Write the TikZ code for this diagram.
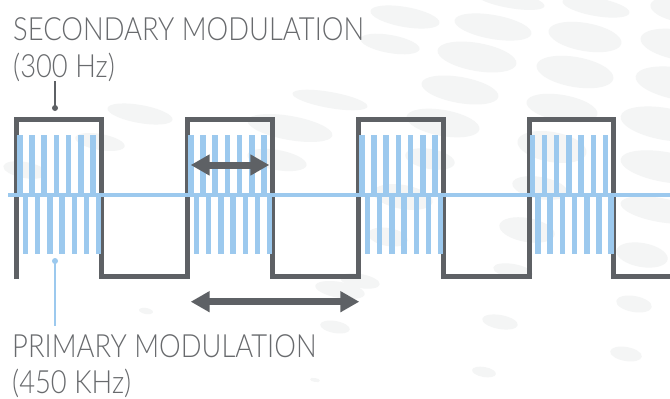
\documentclass[tikz,border=0pt]{standalone}
\usepackage{fontspec}
\usetikzlibrary{arrows.meta}
\newfontfamily\labfont{Lato Light}[FakeStretch=0.855]
\definecolor{wavegray}{HTML}{5E6165}
\definecolor{textgray}{HTML}{686A6D}
\definecolor{lblue}{HTML}{9CC9EE}
\definecolor{bgell}{HTML}{F4F5F5}
\tikzset{
  wave/.style={draw=wavegray, line width=5pt, miter limit=10},
  barline/.style={draw=lblue, line width=5.5pt},
  axisline/.style={draw=lblue, line width=3.5pt},
  dblarrow/.style={draw=wavegray, line width=7pt, {Triangle[length=19pt,width=20pt]}-{Triangle[length=19pt,width=20pt]}},
  lab/.style={font=\labfont\fontsize{32pt}{36pt}\selectfont, text=textgray, inner sep=0pt},
  gtick/.style={draw=wavegray, line width=1.4pt},
  btick/.style={draw=lblue, line width=1.4pt},
  bgshape/.style={fill=bgell},
}
\begin{document}
\begin{tikzpicture}[x=1pt,y=-1pt]
\useasboundingbox (0,0) rectangle (670,399);
\fill[white] (0,0) rectangle (670,399);
% background ellipses
\foreach \cx/\cy/\rx/\ry in {
  510/0/35/8, 493/27/39/12, 596/7/34/9, 680/10/30/12, 405/17/35/10, 390/44/30/9,
  585/37/37/14, 680/45/40/15, 477/57/40/14, 575/72/39/15, 680/84/45/16, 460/90/39/13,
  562/108/36/13, 330/100/38/8, 140/114/33/9, 100/142/25/8, 25/170/22/8,
  290/128/43/12, 277/160/30/10, 443/123/37/13, 665/124/45/16, 552/147/35/15,
  430/159/25/10, 665/167/45/15, 540/188/28/11, 403/197/30/12, 660/210/40/12,
  527/230/28/12, 388/237/20/9, 642/255/26/12, 513/271/20/7, 360/281/20/7,
  340/290/25/8, 500/322/18/7, 634/304/18/8, 626/354/16/7, 484/372/12/5,
  335/327/15/6, 146/311/7/3, 315/380/5/2}
  {\fill[bgshape, rotate around={-10:(\cx,\cy)}] (\cx,\cy) ellipse [x radius=\rx, y radius=\ry];}
% square wave (secondary modulation)
\draw[wave] (16.5,279) -- (16.5,119.5) -- (101.5,119.5) -- (101.5,276.5)
  -- (187.5,276.5) -- (187.5,119.5) -- (272.5,119.5) -- (272.5,276.5)
  -- (358.5,276.5) -- (358.5,119.5) -- (443,119.5) -- (443,276.5)
  -- (529,276.5) -- (529,119.5) -- (613,119.5) -- (613,276.5) -- (672,276.5);
% carrier bars (primary modulation)
\foreach \L in {16.5,187.5,358.5,529} {
  \foreach \k in {0,...,6} {
    \draw[barline] ({\L+3.3+12.2*\k},135) -- ({\L+3.3+12.2*\k},195);
    \draw[barline] ({\L+9*1+12.2*\k},195) -- ({\L+9*1+12.2*\k},254);
  }
}
\draw[axisline] (8,195) -- (672,195);
% arrows
\coordinate (a1l) at (190.7,165);
\coordinate (a1r) at (269.3,165);
\coordinate (a2l) at (190.7,301.7);
\coordinate (a2r) at (359.3,301.7);
\draw[dblarrow] (a1l) -- (a1r);
\draw[dblarrow] (a2l) -- (a2r);
% labels
\node[lab, anchor=base west] (sec1) at (13,40) {SECONDARY MODULATION};
\node[lab, anchor=base west] (sec2) at (13,77) {(300 Hz)};
\node[lab, anchor=base west] (pri1) at (12,357) {PRIMARY MODULATION};
\node[lab, anchor=base west] (pri2) at (12,393) {(450 KHz)};
% leader ticks
\coordinate (secdot) at (55,108);
\coordinate (pridot) at (55,261);
\draw[gtick] (secdot |- sec2.south) -- (secdot);
\fill[wavegray] (secdot) circle (3);
\draw[btick, shorten >=8pt] (pridot) -- (pridot |- pri1.north);
\fill[lblue] (pridot) circle (3);
\end{tikzpicture}
\end{document}
